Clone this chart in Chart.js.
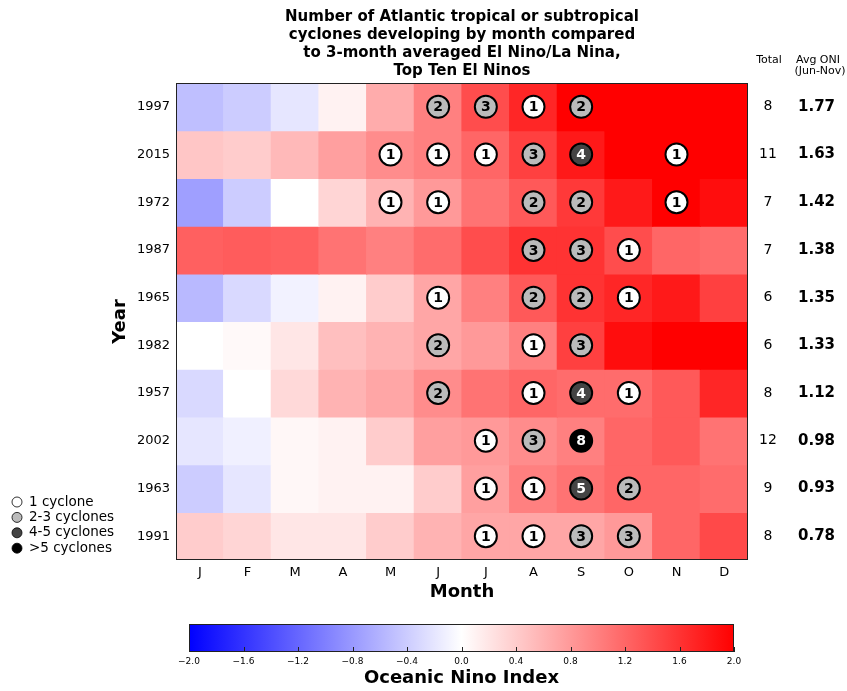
<!DOCTYPE html>
<html>
<head>
<meta charset="utf-8">
<script src="https://cdn.jsdelivr.net/npm/chart.js@4.4.1/dist/chart.umd.min.js"></script>
<style>
  body { margin: 0; background: #fff; }
  #wrap { position: relative; width: 847px; height: 691px; }
  canvas { position: absolute; left: 0; }
</style>
</head>
<body>
<div id="wrap">
  <canvas id="heat" width="847" height="610" style="top:0"></canvas>
  <canvas id="cbar" width="847" height="81" style="top:610px"></canvas>
</div>
<script>
// ── data ─────────────────────────────────────────────
const years = ['1997', '2015', '1972', '1987', '1965', '1982', '1957', '2002', '1963', '1991'];
const monthNames = ['Jan', 'Feb', 'Mar', 'Apr', 'May', 'Jun', 'Jul', 'Aug', 'Sep', 'Oct', 'Nov', 'Dec'];
const monthTicks = ['J', 'F', 'M', 'A', 'M', 'J', 'J', 'A', 'S', 'O', 'N', 'D'];

// 3-month averaged ONI, one value per month
const oni1997 = [-0.5, -0.4, -0.2, 0.1, 0.65, 1.0, 1.4, 1.7, 2.0, 2.2, 2.3, 2.4];
const oni2015 = [0.45, 0.4, 0.55, 0.75, 0.9, 1.0, 1.2, 1.5, 1.8, 2.1, 2.2, 2.3];
const oni1972 = [-0.75, -0.4, 0.0, 0.33, 0.6, 0.8, 1.1, 1.3, 1.55, 1.8, 2.0, 1.9];
const oni1987 = [1.25, 1.28, 1.25, 1.1, 1.0, 1.15, 1.4, 1.6, 1.6, 1.4, 1.2, 1.15];
const oni1965 = [-0.55, -0.3, -0.1, 0.1, 0.4, 0.7, 1.0, 1.3, 1.6, 1.7, 1.8, 1.5];
const oni1982 = [0.0, 0.05, 0.2, 0.5, 0.6, 0.7, 0.8, 1.0, 1.5, 1.9, 2.1, 2.2];
const oni1957 = [-0.3, 0.0, 0.3, 0.6, 0.7, 0.9, 1.1, 1.2, 1.15, 1.15, 1.3, 1.7];
const oni2002 = [-0.2, -0.12, 0.06, 0.1, 0.4, 0.75, 0.8, 0.9, 1.0, 1.2, 1.3, 1.1];
const oni1963 = [-0.4, -0.2, 0.06, 0.1, 0.1, 0.4, 0.75, 1.0, 1.1, 1.2, 1.2, 1.15];
const oni1991 = [0.4, 0.33, 0.2, 0.2, 0.4, 0.6, 0.7, 0.7, 0.7, 0.8, 1.2, 1.43];
const oniRows = [oni1997, oni2015, oni1972, oni1987, oni1965, oni1982, oni1957, oni2002, oni1963, oni1991];

// cyclones developing per month
const storms1997 = [0, 0, 0, 0, 0, 2, 3, 1, 2, 0, 0, 0];
const storms2015 = [0, 0, 0, 0, 1, 1, 1, 3, 4, 0, 1, 0];
const storms1972 = [0, 0, 0, 0, 1, 1, 0, 2, 2, 0, 1, 0];
const storms1987 = [0, 0, 0, 0, 0, 0, 0, 3, 3, 1, 0, 0];
const storms1965 = [0, 0, 0, 0, 0, 1, 0, 2, 2, 1, 0, 0];
const storms1982 = [0, 0, 0, 0, 0, 2, 0, 1, 3, 0, 0, 0];
const storms1957 = [0, 0, 0, 0, 0, 2, 0, 1, 4, 1, 0, 0];
const storms2002 = [0, 0, 0, 0, 0, 0, 1, 3, 8, 0, 0, 0];
const storms1963 = [0, 0, 0, 0, 0, 0, 1, 1, 5, 2, 0, 0];
const storms1991 = [0, 0, 0, 0, 0, 0, 1, 1, 3, 3, 0, 0];
const stormRows = [storms1997, storms2015, storms1972, storms1987, storms1965, storms1982, storms1957, storms2002, storms1963, storms1991];

const totals = [8, 11, 7, 7, 6, 6, 8, 12, 9, 8];
const avgOni = [1.77, 1.63, 1.42, 1.38, 1.35, 1.33, 1.12, 0.98, 0.93, 0.78];

const legendLabels = ['1 cyclone', '2-3 cyclones', '4-5 cyclones', '>5 cyclones'];
const legendCounts = [1, 2, 4, 6];
const cbMin = -2, cbMax = 2, cbStep = 0.4;

Chart.defaults.font.family = '"DejaVu Sans", sans-serif';
Chart.defaults.color = '#000';

// bwr colormap
function oniColor(v) {
    const t = Math.max(-1, Math.min(1, v / 2));
    let r, g, b;
    if (t >= 0) { r = 255; g = b = Math.round(255 * (1 - t)); }
    else { r = g = Math.round(255 * (1 + t)); b = 255; }
    return 'rgb(' + r + ',' + g + ',' + b + ')';
}

function stormFill(n) {
    if (n > 5) return '#000';
    if (n >= 4) return '#444';
    if (n >= 2) return '#bbb';
    return '#fff';
}

const stormPoints = [];
stormRows.forEach((row, i) => row.forEach((n, m) => {
    if (n > 0) stormPoints.push({ x: monthNames[m], y: i, n: n });
}));

const heatSets = years.map((yr, i) => ({
    type: 'bar',
    label: yr,
    data: monthNames.map(() => [i - 0.5, i + 0.5]),
    backgroundColor: oniRows[i].map(oniColor),
    borderWidth: 0,
    grouped: false,
    categoryPercentage: 1,
    barPercentage: 1,
    inflateAmount: 0.6,
    order: 1
}));

const rowTicks = s => { s.ticks = years.map((_, i) => ({ value: i })); };

/* ── plugins ─────────────────────────────────────── */
const frame = {
    id: 'frame',
    afterDatasetsDraw(chart) {
        const { ctx, chartArea: a } = chart;
        ctx.save();
        ctx.strokeStyle = '#222';
        ctx.lineWidth = 1;
        ctx.strokeRect(a.left + 0.5, a.top + 0.5, a.right - a.left - 1, a.bottom - a.top - 1);
        ctx.restore();
    }
};

const stormLabels = {
    id: 'stormLabels',
    afterDatasetsDraw(chart) {
        const ctx = chart.ctx;
        const meta = chart.getDatasetMeta(0);
        ctx.save();
        ctx.font = 'bold 14px "DejaVu Sans"';
        ctx.textAlign = 'center';
        ctx.textBaseline = 'middle';
        meta.data.forEach((pt, k) => {
            const n = stormPoints[k].n;
            ctx.fillStyle = n >= 4 ? '#fff' : '#000';
            ctx.fillText(String(n), pt.x, pt.y + 1);
        });
        ctx.restore();
    }
};

const extras = {
    id: 'extras',
    afterDraw(chart) {
        const ctx = chart.ctx;
        ctx.save();
        ctx.fillStyle = '#000';
        ctx.textAlign = 'center';
        ctx.textBaseline = 'middle';
        ctx.font = '11px "DejaVu Sans"';
        ctx.fillText('Total', 769, 60);
        ctx.fillText('Avg ONI', 818, 60);
        ctx.fillText('(Jun-Nov)', 820, 71);

        // legend
        ctx.textAlign = 'left';
        ctx.font = '13.5px "DejaVu Sans"';
        legendLabels.forEach((txt, i) => {
            const y = 502 + i * 15.4;
            ctx.beginPath();
            ctx.arc(17, y, 5, 0, Math.PI * 2);
            ctx.fillStyle = stormFill(legendCounts[i]);
            ctx.fill();
            ctx.lineWidth = 0.8;
            ctx.strokeStyle = '#000';
            ctx.stroke();
            ctx.fillStyle = '#000';
            ctx.fillText(txt, 29, y);
        });
        ctx.restore();
    }
};

new Chart(document.getElementById('heat'), {
    type: 'bar',
    data: {
        labels: monthNames,
        datasets: [{
            type: 'line',
            label: 'storms',
            data: stormPoints,
            showLine: false,
            order: 0,
            pointRadius: 11,
            pointHoverRadius: 11,
            pointBorderWidth: 2,
            pointBorderColor: '#000',
            pointBackgroundColor: ctx => stormFill(ctx.raw ? ctx.raw.n : 1)
        }].concat(heatSets)
    },
    options: {
        responsive: false,
        animation: false,
        events: [],
        layout: { padding: { left: 100, right: 0, top: 0, bottom: 0 } },
        plugins: {
            legend: { display: false },
            tooltip: { enabled: false },
            title: {
                display: true,
                fullSize: false,
                text: ['Number of Atlantic tropical or subtropical', 'cyclones developing by month compared',
                       'to 3-month averaged El Nino/La Nina,', 'Top Ten El Ninos'],
                font: { size: 15, weight: 'bold', lineHeight: 1.2 },
                color: '#000',
                padding: { top: 8, bottom: 3 }
            }
        },
        scales: {
            x: {
                grid: { display: false, drawTicks: false },
                border: { display: false },
                ticks: { callback: (v, i) => monthTicks[i], font: { size: 13 }, padding: 5, maxRotation: 0, autoSkip: false },
                title: { display: true, text: 'Month', font: { size: 18, weight: 'bold' }, padding: { top: 0, bottom: 7 } },
                afterFit: s => { s.height = 50; }
            },
            y: {
                type: 'linear', min: -0.5, max: 9.5, reverse: true,
                afterBuildTicks: rowTicks,
                grid: { display: false, drawTicks: false },
                border: { display: false },
                ticks: { callback: (v, i) => years[i], font: { size: 13 }, padding: 6 },
                title: { display: true, text: 'Year', font: { size: 18, weight: 'bold' }, padding: { top: 10, bottom: 0 } },
                afterFit: s => { s.width = 76; }
            },
            yTot: {
                type: 'linear', position: 'right', weight: 0, min: -0.5, max: 9.5, reverse: true,
                afterBuildTicks: rowTicks,
                grid: { display: false, drawTicks: false },
                border: { display: false },
                ticks: { callback: (v, i) => totals[i], font: { size: 14 }, padding: 11, crossAlign: 'center' },
                afterFit: s => { s.width = 40; }
            },
            yAvg: {
                type: 'linear', position: 'right', weight: 1, min: -0.5, max: 9.5, reverse: true,
                afterBuildTicks: rowTicks,
                grid: { display: false, drawTicks: false },
                border: { display: false },
                ticks: { callback: (v, i) => avgOni[i].toFixed(2), font: { size: 15, weight: 'bold' }, padding: 10 },
                afterFit: s => { s.width = 59; }
            }
        }
    },
    plugins: [frame, stormLabels, extras]
});

/* ── colour bar ──────────────────────────────────── */
const cbTicks = {
    id: 'cbTicks',
    afterDatasetsDraw(chart) {
        const { ctx, chartArea: a } = chart;
        const sx = chart.scales.x;
        ctx.save();
        ctx.strokeStyle = '#222';
        ctx.lineWidth = 1;
        sx.ticks.forEach(t => {
            const px = Math.round(sx.getPixelForValue(t.value)) + 0.5;
            ctx.beginPath();
            ctx.moveTo(px, a.bottom);
            ctx.lineTo(px, a.bottom - 5);
            ctx.stroke();
        });
        ctx.strokeRect(a.left + 0.5, a.top + 0.5, a.right - a.left - 1, a.bottom - a.top - 1);
        ctx.restore();
    }
};

new Chart(document.getElementById('cbar'), {
    type: 'bar',
    data: {
        labels: ['ONI'],
        datasets: [{
            data: [[cbMin, cbMax]],
            backgroundColor: ctx => {
                const a = ctx.chart.chartArea;
                if (!a) return '#fff';
                const g = ctx.chart.ctx.createLinearGradient(a.left, 0, a.right, 0);
                g.addColorStop(0, 'rgb(0,0,255)');
                g.addColorStop(0.5, 'rgb(255,255,255)');
                g.addColorStop(1, 'rgb(255,0,0)');
                return g;
            },
            borderWidth: 0,
            categoryPercentage: 1,
            barPercentage: 1
        }]
    },
    options: {
        indexAxis: 'y',
        responsive: false,
        animation: false,
        events: [],
        layout: { padding: { left: 189, right: 113, top: 14, bottom: 0 } },
        plugins: { legend: { display: false }, tooltip: { enabled: false } },
        scales: {
            y: { display: false },
            x: {
                type: 'linear', min: cbMin, max: cbMax,
                grid: { display: false, drawTicks: false },
                border: { display: false },
                ticks: {
                    stepSize: cbStep, autoSkip: false, maxRotation: 0, padding: 4,
                    font: { size: 9 },
                    callback: v => v.toFixed(1).replace('-', '\u2212')
                },
                title: { display: true, text: 'Oceanic Nino Index', font: { size: 18, weight: 'bold' }, padding: { top: 0, bottom: 2 } },
                afterFit: s => { s.height = 39; }
            }
        }
    },
    plugins: [cbTicks]
});
</script>
</body>
</html>
